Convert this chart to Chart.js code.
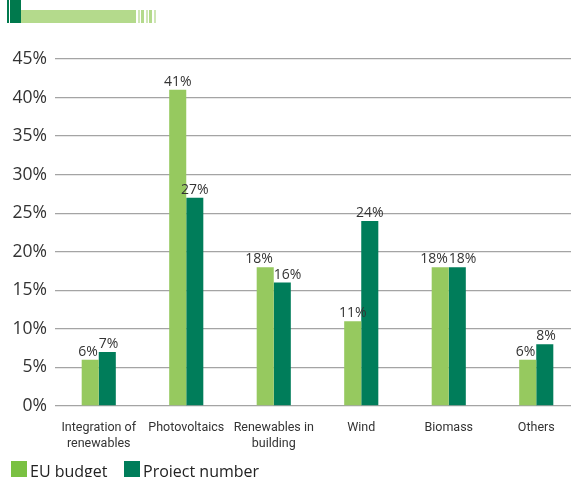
<!DOCTYPE html>
<html>
<head>
<meta charset="utf-8">
<script src="https://cdn.jsdelivr.net/npm/chart.js@4/dist/chart.umd.min.js"></script>
<style>
  html, body { margin: 0; padding: 0; background: #fff; width: 571px; height: 477px; overflow: hidden; }
  #wrap { position: absolute; left: 0; top: 0; width: 580px; height: 477px; }
  #deco-dark { position: absolute; left: 7px; top: 0; width: 14px; height: 23px; background: #00794d; }
  #deco-dark::after { content: ""; position: absolute; left: 2px; top: 0; width: 1px; height: 23px; background: #fff; }
  #deco-light { position: absolute; left: 21px; top: 10px; width: 112px; height: 13px; background: #b4da8c; }
  #deco-stripes { position: absolute; left: 133px; top: 10px; width: 24px; height: 13px;
    background: repeating-linear-gradient(90deg, #b4da8c 0 3px, #fff 3px 5px, #cfe6b6 5px 7px, #fff 7px 8px); }
  #legend { position: absolute; left: 11px; top: 461px; font-family: "Open Sans", sans-serif; font-size: 16px; color: #222; white-space: nowrap; }
  .item { position: absolute; top: 0; height: 20px; }
  .box { position: absolute; left: 0; top: 0; width: 16px; height: 20px; }
  .txt { position: absolute; left: 19px; top: -1px; line-height: 22px; }
</style>
</head>
<body>
<div id="deco-dark"></div>
<div id="deco-light"></div>
<div id="deco-stripes"></div>
<div id="wrap"><canvas id="c" width="580" height="477"></canvas></div>
<div id="legend"></div>
<script>
// Funding by technology: share of EU budget vs share of projects (%)
const categories = [["Integration of", "renewables"], "Photovoltaics", ["Renewables in", "building"], "Wind", "Biomass", "Others"];
const euBudget = [6, 41, 18, 11, 18, 6];
const projectNumber = [7, 27, 16, 24, 18, 8];
const yTicks = [0, 5, 10, 15, 20, 25, 30, 35, 40, 45];
const seriesNames = ["EU budget", "Project number"];

const colors = {
  light: "#96c95f",
  dark: "#007d5a",
  legendLight: "#7ac142",
  text: "#333333",
  grid: "#a4a4a4"
};

// Percentage labels above each bar; when a pair of labels sits at nearly
// the same height they are pushed apart so they do not collide.
const valueLabels = {
  id: "valueLabels",
  afterDatasetsDraw(chart) {
    const ctx = chart.ctx;
    const a = chart.getDatasetMeta(0).data;
    const b = chart.getDatasetMeta(1).data;
    ctx.save();
    ctx.font = '14px "Open Sans", sans-serif';
    ctx.fillStyle = colors.text;
    ctx.textBaseline = "alphabetic";
    a.forEach((barA, j) => {
      const barB = b[j];
      const close = Math.abs(barA.y - barB.y) < 20;
      const ya = barA.y - 4, yb = barB.y - 4;
      if (close) {
        ctx.textAlign = "right";
        ctx.fillText(euBudget[j] + "%", barA.x + barA.width / 2 - 1, ya);
        ctx.textAlign = "left";
        ctx.fillText(projectNumber[j] + "%", barB.x - barB.width / 2, yb);
      } else {
        ctx.textAlign = "center";
        ctx.fillText(euBudget[j] + "%", barA.x, ya);
        ctx.fillText(projectNumber[j] + "%", barB.x, yb);
      }
    });
    ctx.restore();
  }
};

const chart = new Chart(document.getElementById("c"), {
  type: "bar",
  data: {
    labels: categories,
    datasets: [
      { label: seriesNames[0], data: euBudget, backgroundColor: colors.light },
      { label: seriesNames[1], data: projectNumber, backgroundColor: colors.dark }
    ]
  },
  options: {
    responsive: false,
    animation: false,
    devicePixelRatio: 1,
    layout: { padding: { top: 59, left: 0, right: 0, bottom: 0 } },
    datasets: { bar: { categoryPercentage: 0.39, barPercentage: 1.0 } },
    plugins: { legend: { display: false }, tooltip: { enabled: false } },
    scales: {
      x: {
        grid: { display: false },
        border: { display: false },
        ticks: {
          color: colors.text,
          font: { family: "Roboto, sans-serif", size: 12.5, lineHeight: 1.35 },
          padding: 5,
          maxRotation: 0,
          autoSkip: false
        },
        afterFit(scale) { scale.height = 71; }
      },
      y: {
        min: 0,
        max: 45,
        afterBuildTicks(scale) { scale.ticks = yTicks.map(v => ({ value: v })); },
        grid: { color: colors.grid, lineWidth: 1.3, drawTicks: false },
        border: { display: false },
        ticks: {
          color: colors.text,
          font: { family: '"Open Sans", sans-serif', size: 17.5 },
          padding: 8,
          callback: v => v + "%"
        },
        afterFit(scale) { scale.width = 55; }
      }
    }
  },
  plugins: [valueLabels]
});

// Legend built from the dataset names and colours
const legend = document.getElementById("legend");
const legendX = [0, 113];
const legendColors = [colors.legendLight, colors.dark];
seriesNames.forEach((name, i) => {
  const item = document.createElement("div");
  item.className = "item";
  item.style.left = legendX[i] + "px";
  const box = document.createElement("div");
  box.className = "box";
  box.style.background = legendColors[i];
  const txt = document.createElement("div");
  txt.className = "txt";
  txt.textContent = name;
  item.appendChild(box);
  item.appendChild(txt);
  legend.appendChild(item);
});
</script>
</body>
</html>
